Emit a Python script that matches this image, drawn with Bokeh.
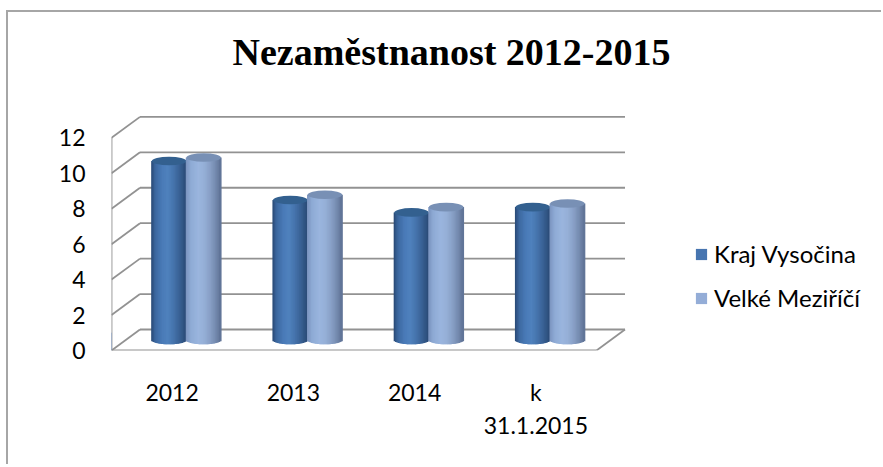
import numpy as np
from bokeh.plotting import figure
from bokeh.models import FixedTicker, Range1d, Legend, LegendItem
from bokeh.embed import file_html
from bokeh.resources import INLINE

# ---------------- data ----------------
categories = ["2012", "2013", "2014", "k\n31.1.2015"]
kraj_vysocina = [10.1, 7.9, 7.2, 7.5]
velke_mezirici = [10.3, 8.2, 7.5, 7.7]
series_names = ["Kraj Vysočina", "Velké Meziříčí"]
y_ticks = [0, 2, 4, 6, 8, 10, 12]
title_text = "Nezaměstnanost  2012-2015"

# ---------------- style / geometry ----------------
PX_U = 121.25          # pixels per category
PX_V = 17.72           # pixels per unit of value
DU = 28.5 / PX_U       # depth offset (x)
DV = 21.0 / PX_V       # depth offset (y)
BORDER_L, BORDER_B = 103, 114
FRAME_W, FRAME_H = 770, 261
GRID = "#929292"
FONT = "Lato"

# shading stops across the cylinder width
STOPS = [
    [(0.0, (40, 72, 115)), (0.12, (60, 104, 160)), (0.32, (74, 123, 184)),
     (0.48, (79, 129, 189)), (0.64, (70, 116, 173)), (0.82, (57, 97, 148)), (1.0, (42, 75, 118))],
    [(0.0, (122, 147, 190)), (0.15, (143, 171, 213)), (0.36, (154, 181, 222)),
     (0.52, (150, 176, 216)), (0.7, (136, 160, 198)), (0.88, (114, 136, 172)), (1.0, (94, 113, 148))],
]
TOP_COLORS = ["#33608f", "#7890b5"]
LEGEND_COLORS = ["#4775b0", "#94add7"]


def shade(stops, t):
    for (t0, c0), (t1, c1) in zip(stops[:-1], stops[1:]):
        if t <= t1:
            f = (t - t0) / (t1 - t0)
            c = [int(round(a + (b - a) * f)) for a, b in zip(c0, c1)]
            return "#%02x%02x%02x" % tuple(c)
    return "#%02x%02x%02x" % stops[-1][1]


n = len(categories)
p = figure(frame_width=FRAME_W, frame_height=FRAME_H,
           x_range=Range1d(0, FRAME_W / PX_U), y_range=Range1d(0, FRAME_H / PX_V),
           output_backend="svg", toolbar_location=None,
           min_border_left=BORDER_L, min_border_right=0,
           min_border_top=0, min_border_bottom=BORDER_B)
p.styles = {"border-top": "2px solid #a6a6a6", "border-left": "2px solid #a6a6a6",
            "position": "relative", "left": "6px", "top": "10px"}
p.background_fill_color = "white"
p.border_fill_color = "white"
p.outline_line_color = None
p.xgrid.visible = False
p.ygrid.visible = False

# ---------------- walls ----------------
back_y = [t + DV for t in y_ticks]
p.segment(x0=[DU] * len(y_ticks), y0=back_y, x1=[n + DU] * len(y_ticks), y1=back_y,
          line_color=GRID, line_width=1.8)
p.segment(x0=[0] * len(y_ticks), y0=y_ticks, x1=[DU] * len(y_ticks), y1=back_y,
          line_color=GRID, line_width=1.8)
p.segment(x0=[0, 0, n], y0=[0, 0, 0], x1=[0, n, n + DU], y1=[max(y_ticks), 0, DV],
          line_color=GRID, line_width=1.8)

# ---------------- cylinders ----------------
W = 34.6 / PX_U
B = 4.3 / PX_V
base = DV / 2
NS = 26
for s, vals in enumerate([kraj_vysocina, velke_mezirici]):
    xs, tops, bottoms, cols, cx, cy = [], [], [], [], [], []
    for i, v in enumerate(vals):
        c = i + 0.5 + DU / 2 + (s - 0.5) * W
        cx.append(c)
        cy.append(base + v)
        for k in range(NS):
            t = (k + 0.5) / NS
            r = 2 * t - 1
            xs.append(c - W / 2 + t * W)
            tops.append(base + v)
            bottoms.append(base - B * np.sqrt(max(0.0, 1 - r * r)))
            cols.append(shade(STOPS[s], t))
    p.vbar(x=xs, top=tops, bottom=bottoms, width=W / NS * 1.9,
           fill_color=cols, line_color=None)
    p.ellipse(x=cx, y=cy, width=W, height=2 * B, fill_color=TOP_COLORS[s], line_color=None)

# ---------------- legend ----------------
items = []
for s, name in enumerate(series_names):
    r = p.vbar(x=[-100], top=[1], width=0.1, fill_color=LEGEND_COLORS[s], line_color=None)
    items.append(LegendItem(label=name, renderers=[r]))
legend = Legend(items=items, location=(583, 38), orientation="vertical",
                glyph_width=14, glyph_height=14, label_standoff=6, spacing=15,
                padding=0, margin=0, border_line_color=None, background_fill_alpha=0,
                label_text_font=FONT, label_text_font_size="24px", label_text_color="black")
p.add_layout(legend)

# ---------------- axes ----------------
p.xaxis.ticker = FixedTicker(ticks=[i + 0.5 for i in range(n)])
p.xaxis.major_label_overrides = {i + 0.5: lab for i, lab in enumerate(categories)}
p.yaxis.ticker = FixedTicker(ticks=y_ticks)
for ax in (p.xaxis, p.yaxis):
    ax.axis_line_color = None
    ax.major_tick_line_color = None
    ax.minor_tick_line_color = None
    ax.major_tick_out = 0
    ax.major_tick_in = 0
    ax.major_label_text_font = FONT
    ax.major_label_text_font_size = "23px"
    ax.major_label_text_color = "black"
p.yaxis.major_label_standoff = 26
p.xaxis.major_label_standoff = 27
p.xaxis.major_label_text_line_height = 1.2

# ---------------- title ----------------
p.title.text = title_text
p.title.text_font = "Liberation Serif"
p.title.text_font_style = "bold"
p.title.text_font_size = "38px"
p.title.align = "left"
p.title.offset = 121
p.title.standoff = 33
p.title.text_color = "black"

open("out.html", "w").write(file_html(p, INLINE))
